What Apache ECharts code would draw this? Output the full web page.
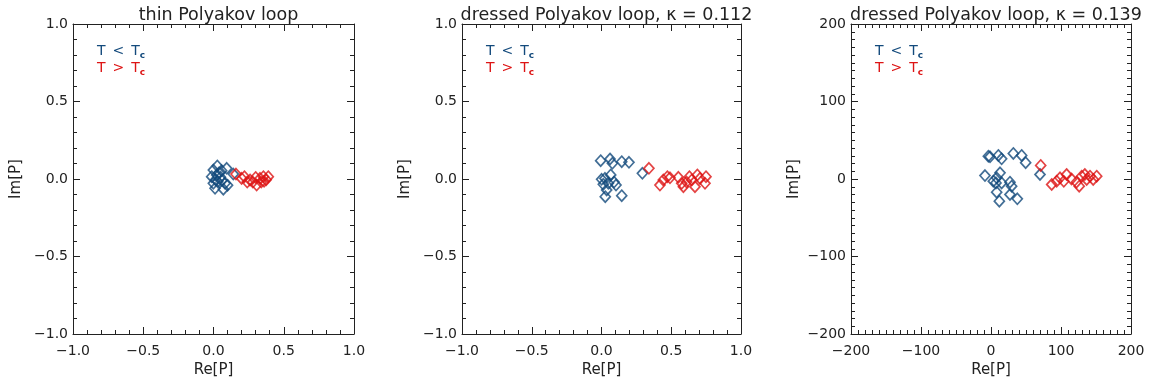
<!DOCTYPE html>
<html>
<head>
<meta charset="utf-8">
<script src="https://cdn.jsdelivr.net/npm/echarts@6/dist/echarts.min.js"></script>
<style>
html,body{margin:0;padding:0;background:#fff;}
#chart{width:1159px;height:387px;}
</style>
</head>
<body>
<div id="chart"></div>
<script>
// Polyakov loop values in the complex plane: [Re P, Im P]
const thinBelow = [
  [0.027, 0.084], [-0.001, 0.058], [0.058, 0.054], [0.094, 0.069], [-0.013, 0.015],
  [0.023, 0.026], [0.05, 0.012], [-0.001, -0.028], [0.03, -0.017], [0.082, -0.028],
  [0.011, -0.06], [0.07, -0.066], [0.10, -0.04], [0.04, 0.04], [0.015, -0.005],
  [0.06, -0.01], [0.141, 0.032]
];
const thinAbove = [
  [0.16, 0.032], [0.20, 0.004], [0.22, 0.015], [0.26, -0.006], [0.307, -0.039],
  [0.331, 0.004], [0.355, 0.015], [0.39, 0.015], [0.36, -0.015], [0.28, -0.02],
  [0.24, -0.02], [0.30, 0.01], [0.34, -0.02], [0.375, -0.005]
];
const dressed112Below = [
  [-0.006, 0.118], [0.061, 0.129], [0.078, 0.101], [0.145, 0.112], [0.197, 0.108],
  [0.001, -0.002], [0.025, 0.004], [0.066, 0.026], [0.013, -0.034], [0.049, -0.028],
  [0.104, -0.039], [0.037, -0.071], [0.027, -0.114], [0.145, -0.108], [0.293, 0.037],
  [0.09, -0.02]
];
const dressed112Above = [
  [0.340, 0.069], [0.419, -0.039], [0.443, -0.006], [0.472, 0.015], [0.491, 0.008],
  [0.551, 0.011], [0.575, -0.028], [0.587, -0.05], [0.630, 0.015], [0.647, -0.006],
  [0.670, -0.05], [0.687, 0.026], [0.706, 0.004], [0.749, 0.015], [0.742, -0.028],
  [0.610, -0.02]
];
const dressed139Below = [
  [-3.8, 29.4], [-1.4, 28.7], [10.5, 30.4], [15.2, 26], [31.9, 33], [43.8, 30.4],
  [49.5, 21], [-8.6, 4.5], [3.3, -2.8], [8.1, 1.5], [12.9, 8], [7.1, -5], [15.2, -5],
  [27.1, -4.1], [29.5, -9.3], [8.1, -17], [27.1, -20], [37.6, -25.6], [11.9, -28.7],
  [70, 5.8]
];
const dressed139Above = [
  [71, 17.5], [86.7, -7.1], [93.8, -2.8], [98.6, 1.5], [108, 5.8], [122, -4.1],
  [126, -9.3], [129.5, 3.6], [134, 5.8], [136.7, -0.6], [141.4, 3.6], [146, -0.6],
  [151, 3.6], [115, 0], [104, -3]
];
const panelTitles = ['thin Polyakov loop', 'dressed Polyakov loop, \u03ba = 0.112', 'dressed Polyakov loop, \u03ba = 0.139'];
const axisRanges = [[-1, 1, 0.5, 5], [-1, 1, 0.5, 5], [-200, 200, 100, 10]];

const BLUE = '#134a7c';
const RED = '#dd1414';
const INK = '#222';
const FONT = 'DejaVu Sans';

const grids = [
  { left: 73, top: 24, width: 281, height: 310 },
  { left: 462, top: 24, width: 279, height: 310 },
  { left: 851, top: 24, width: 280, height: 310 }
];

function fmt(v, step) {
  const s = step < 1 ? v.toFixed(1) : String(v);
  return s.replace('-', '\u2212');
}

const xAxes = [], yAxes = [], series = [], titles = [];
grids.forEach((g, i) => {
  const [mn, mx, step, minor] = axisRanges[i];
  const common = {
    gridIndex: i, type: 'value', min: mn, max: mx, interval: step,
    splitLine: { show: false },
    axisLine: { show: true, onZero: false, lineStyle: { color: INK, width: 1 } },
    axisTick: { show: true, inside: true, length: 7, lineStyle: { color: INK } },
    minorTick: { show: true, splitNumber: minor, length: 4, lineStyle: { color: INK } }
  };
  xAxes.push(Object.assign({}, common, {
    position: 'bottom',
    name: 'Re[P]', nameLocation: 'middle', nameGap: 29,
    nameTextStyle: { color: INK, fontSize: 15, fontFamily: FONT },
    axisLabel: { color: INK, fontSize: 14, fontFamily: FONT, margin: 10, formatter: v => fmt(v, step) }
  }));
  xAxes.push(Object.assign({}, common, { position: 'top', axisLabel: { show: false } }));
  yAxes.push(Object.assign({}, common, {
    position: 'left',
    name: 'Im[P]', nameLocation: 'middle', nameGap: 49,
    nameTextStyle: { color: INK, fontSize: 15, fontFamily: FONT },
    axisLabel: { color: INK, fontSize: 14, fontFamily: FONT, margin: 5, formatter: v => fmt(v, step) }
  }));
  yAxes.push(Object.assign({}, common, { position: 'right', axisLabel: { show: false } }));

  titles.push({
    text: panelTitles[i], left: g.left + g.width / 2, top: 1, textAlign: 'center',
    textStyle: { color: INK, fontSize: 17.5, fontWeight: 'normal', fontFamily: FONT }
  });
  titles.push({
    text: '{b|T\u2002<\u2002T}{bs|c}\n{r|T\u2002>\u2002T}{rs|c}',
    left: g.left + 19, top: 38,
    textStyle: {
      fontWeight: 'normal',
      rich: {
        b: { color: BLUE, fontSize: 14, fontFamily: FONT, lineHeight: 17 },
        bs: { color: BLUE, fontSize: 9, fontWeight: 'bold', fontFamily: FONT, verticalAlign: 'bottom', padding: [6, 0, 0, 0], lineHeight: 17 },
        r: { color: RED, fontSize: 14, fontFamily: FONT, lineHeight: 17 },
        rs: { color: RED, fontSize: 9, fontWeight: 'bold', fontFamily: FONT, verticalAlign: 'bottom', padding: [6, 0, 0, 0], lineHeight: 17 }
      }
    }
  });
});

const sets = [[thinBelow, thinAbove], [dressed112Below, dressed112Above], [dressed139Below, dressed139Above]];
sets.forEach((pair, i) => {
  pair.forEach((data, k) => {
    series.push({
      type: 'scatter', xAxisIndex: 2 * i, yAxisIndex: 2 * i, data: data,
      symbol: 'diamond', symbolSize: [10, 11],
      itemStyle: { color: 'transparent', borderColor: k === 0 ? BLUE : RED, borderWidth: 1.7 },
      emphasis: { disabled: true }, animation: false, silent: true
    });
  });
});

const chart = echarts.init(document.getElementById('chart'), null, { renderer: 'canvas' });
chart.setOption({
  backgroundColor: '#fff',
  animation: false,
  title: titles,
  grid: grids,
  xAxis: xAxes,
  yAxis: yAxes,
  series: series
});
</script>
</body>
</html>
